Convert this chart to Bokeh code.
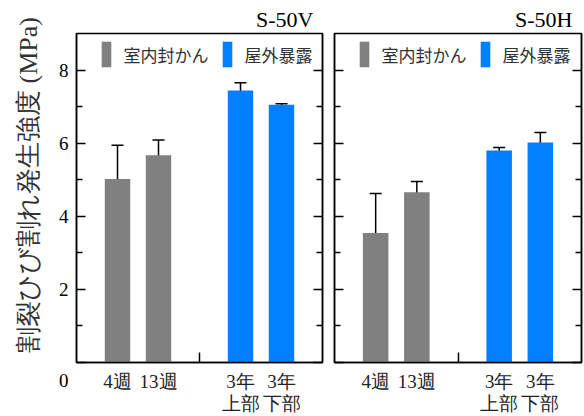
from bokeh.plotting import figure
from bokeh.models import (ColumnDataSource, Whisker, FixedTicker, LinearAxis, Legend,
                          LegendItem, Range1d, TeeHead)
from bokeh.layouts import row
from bokeh.embed import file_html
from bokeh.resources import INLINE

SERIF = "Liberation Serif"
SANS = "Noto Sans CJK JP"

# ---- data ----
x_pos = [1, 2, 4, 5]
x_labels = ["4週", "13週", "3年\n上部", "3年\n下部"]
groups = ["室内封かん", "室内封かん", "屋外暴露", "屋外暴露"]
group_names = ["室内封かん", "屋外暴露"]
group_colors = ["#808080", "#0080ff"]
gap_tick = [3]
y_ticks = [0, 2, 4, 6, 8]
y_tick_labels = ["\n0", "2", "4", "6", "8"]
y_minor = [1, 3, 5, 7]
titles = ["S-50V", "S-50H"]
s50v_mean = [5.02, 5.67, 7.44, 7.05]
s50v_err = [0.92, 0.42, 0.21, 0.03]
s50h_mean = [3.54, 4.66, 5.80, 6.02]
s50h_err = [1.08, 0.29, 0.08, 0.27]
y_label = "割裂ひび割れ発生強度 (MPa)"


def style_yaxis(ax, show_labels):
    ax.ticker = FixedTicker(ticks=y_ticks, minor_ticks=y_minor)
    ax.major_tick_in = 9
    ax.major_tick_out = 0
    ax.minor_tick_in = 6
    ax.minor_tick_out = 0
    ax.axis_line_width = 1.5
    ax.major_tick_line_width = 1.5
    ax.minor_tick_line_width = 1.5
    ax.axis_line_color = "black"
    if show_labels:
        ax.major_label_overrides = dict(zip(y_ticks, y_tick_labels))
        ax.major_label_text_font = SERIF
        ax.major_label_text_font_size = "19px"
        ax.major_label_text_color = "black"
        ax.major_label_text_line_height = 1.7
        ax.major_label_standoff = 8
    else:
        ax.major_label_overrides = {t: "" for t in y_ticks}
        ax.major_label_standoff = 0


def make_panel(title, means, errs, width, bl, br, first):
    p = figure(width=width, height=416, x_range=Range1d(0, 6), y_range=Range1d(0, 9),
               output_backend="svg", toolbar_location=None,
               min_border_left=bl, min_border_right=br, min_border_top=33,
               min_border_bottom=53)
    p.grid.visible = False
    p.outline_line_color = "black"
    p.outline_line_width = 1.5
    p.outline_line_alpha = 1

    p.title.text = title
    p.title.align = "right"
    p.title.offset = 9
    p.title.standoff = 4
    p.title.text_font = SERIF
    p.title.text_font_size = "22px"
    p.title.text_font_style = "normal"
    p.title.text_color = "black"

    # x axis
    xa = p.xaxis[0]
    xa.ticker = FixedTicker(ticks=x_pos, minor_ticks=gap_tick)
    xa.major_label_overrides = dict(zip(x_pos, x_labels))
    xa.major_label_text_font = SERIF
    xa.major_label_text_font_size = "19px"
    xa.major_label_text_color = "#222222"
    xa.major_label_text_line_height = 1.05
    xa.major_label_standoff = 8
    xa.major_tick_in = 0
    xa.major_tick_out = 0
    xa.minor_tick_in = 10
    xa.minor_tick_out = 0
    xa.minor_tick_line_width = 1.5
    xa.axis_line_width = 1.5

    style_yaxis(p.yaxis[0], first)
    ra = LinearAxis()
    style_yaxis(ra, False)
    p.add_layout(ra, "right")

    if first:
        ya = p.yaxis[0]
        ya.axis_label = "\u3000" + y_label
        ya.axis_label_text_font = SERIF
        ya.axis_label_text_font_size = "26px"
        ya.axis_label_text_font_style = "normal"
        ya.axis_label_text_color = "#333333"
        ya.axis_label_standoff = 13

    items = []
    for g, c in zip(group_names, group_colors):
        idx = [i for i, gg in enumerate(groups) if gg == g]
        src = ColumnDataSource(dict(x=[x_pos[i] for i in idx], top=[means[i] for i in idx]))
        r = p.vbar(x="x", top="top", width=0.62, source=src, fill_color=c, line_color=None)
        items.append(LegendItem(label=g, renderers=[r]))

    esrc = ColumnDataSource(dict(base=x_pos,
                                 upper=[m + e for m, e in zip(means, errs)],
                                 lower=[m - e for m, e in zip(means, errs)]))
    w = Whisker(base="base", upper="upper", lower="lower", source=esrc,
                line_color="black", line_width=1.5,
                upper_head=TeeHead(size=12, line_width=1.5, line_color="black"),
                lower_head=TeeHead(size=12, line_width=1.5, line_color="black"))
    p.add_layout(w)

    leg = Legend(items=items, orientation="horizontal", location=(23.5, 292),
                 glyph_width=12, glyph_height=32, label_standoff=12, spacing=12,
                 padding=0, margin=0, border_line_color=None, background_fill_alpha=0,
                 label_text_font=SANS, label_text_font_size="17px",
                 label_text_color="#333333")
    p.add_layout(leg, "center")
    return p


p1 = make_panel(titles[0], s50v_mean, s50v_err, 328, 76, 6, True)
p2 = make_panel(titles[1], s50h_mean, s50h_err, 256, 6, 3, False)
layout = row(p1, p2)

open("out.html", "w").write(file_html(layout, INLINE))
